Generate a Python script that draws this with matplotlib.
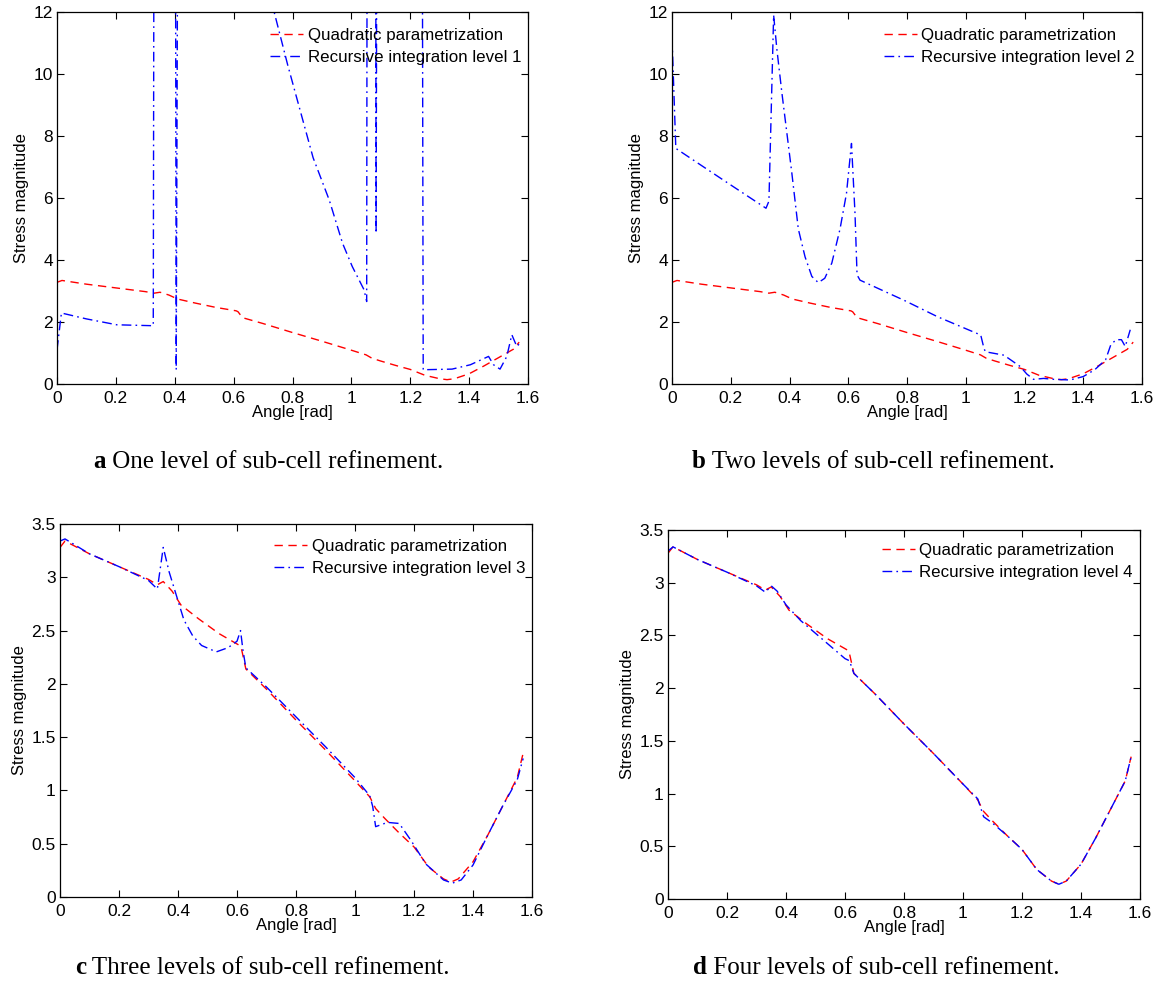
import matplotlib
matplotlib.use("Agg")
import matplotlib.pyplot as plt

plt.rcParams['font.family'] = ['Liberation Sans', 'DejaVu Sans']

# ---- data ----
quad_x = [0, 0.017, 0.1, 0.2, 0.3, 0.33, 0.35, 0.38, 0.41, 0.47, 0.54, 0.609, 0.615, 0.63,
          0.7, 0.8, 0.9, 1.0, 1.05, 1.07, 1.1, 1.15, 1.2, 1.25, 1.3, 1.325, 1.35, 1.4, 1.45,
          1.5, 1.55, 1.57]
quad_y = [3.28, 3.34, 3.22, 3.10, 2.98, 2.93, 2.96, 2.87, 2.74, 2.61, 2.47, 2.36, 2.33, 2.14,
          1.95, 1.66, 1.38, 1.09, 0.94, 0.83, 0.74, 0.60, 0.47, 0.28, 0.17, 0.14, 0.17, 0.33, 0.58,
          0.85, 1.12, 1.35]

l1_x = [0, 0.015, 0.1, 0.203, 0.327, 0.332, 0.40, 0.405, 0.415, 0.70, 0.784, 0.87, 0.925,
        0.97, 1.003, 1.043, 1.052, 1.055, 1.081, 1.084, 1.09, 1.238, 1.244, 1.342, 1.404,
        1.466, 1.483, 1.505, 1.528, 1.545, 1.562, 1.573]
l1_y = [1.1, 2.29, 2.1, 1.91, 1.88, 30, 30, 0.46, 30, 13.4, 10.28, 7.3, 5.93,
        4.54, 3.79, 3.04, 2.66, 30, 30, 4.86, 30, 30, 0.46, 0.48, 0.62,
        0.89, 0.62, 0.48, 0.89, 1.59, 1.21, 1.32]

l2_x = [0, 0.013, 0.1, 0.2, 0.32, 0.33, 0.346, 0.357, 0.374, 0.408, 0.43, 0.453, 0.476, 0.498,
        0.52, 0.544, 0.572, 0.594, 0.611, 0.623, 0.63, 0.64, 0.79, 0.904, 1.051, 1.062, 1.067,
        1.13, 1.186, 1.208, 1.231, 1.265, 1.3, 1.355, 1.4, 1.439, 1.476, 1.494, 1.512, 1.53,
        1.543, 1.56]
l2_y = [11.2, 7.6, 7.05, 6.42, 5.67, 5.9, 11.9, 10.8, 9.4, 6.8, 5.0, 4.1, 3.47, 3.27,
        3.41, 3.9, 5.0, 6.15, 7.76, 5.5, 3.52, 3.35, 2.7, 2.17, 1.58, 1.15, 1.04,
        0.93, 0.56, 0.32, 0.15, 0.18, 0.15, 0.13, 0.24, 0.46, 0.78, 1.27, 1.43, 1.43,
        1.21, 1.75]

l3_x = [0, 0.017, 0.1, 0.2, 0.3, 0.33, 0.35, 0.37, 0.4, 0.42, 0.45, 0.48, 0.53, 0.57, 0.6,
        0.612, 0.62, 0.63, 0.7, 0.8, 0.9, 1.0, 1.05, 1.06, 1.07, 1.11, 1.15, 1.19, 1.24, 1.3,
        1.33, 1.36, 1.4, 1.45, 1.5, 1.55, 1.57]
l3_y = [3.34, 3.36, 3.22, 3.10, 2.97, 2.89, 3.28, 3.05, 2.78, 2.60, 2.45, 2.36, 2.30, 2.34,
        2.40, 2.50, 2.32, 2.15, 1.97, 1.69, 1.41, 1.12, 0.95, 0.85, 0.66, 0.70, 0.69, 0.53,
        0.31, 0.16, 0.13, 0.16, 0.30, 0.58, 0.85, 1.10, 1.30]

l4_x = [0, 0.017, 0.1, 0.2, 0.3, 0.33, 0.35, 0.37, 0.4, 0.45, 0.5, 0.55, 0.6, 0.615, 0.63,
        0.7, 0.8, 0.9, 1.0, 1.05, 1.07, 1.1, 1.15, 1.2, 1.25, 1.3, 1.325, 1.35, 1.4, 1.45,
        1.5, 1.55, 1.57]
l4_y = [3.30, 3.34, 3.22, 3.10, 2.97, 2.91, 2.97, 2.92, 2.79, 2.64, 2.52, 2.40, 2.28, 2.26,
        2.14, 1.95, 1.66, 1.38, 1.09, 0.95, 0.78, 0.72, 0.60, 0.47, 0.28, 0.17, 0.14, 0.17,
        0.33, 0.58, 0.85, 1.12, 1.35]

quad_label = "Quadratic parametrization"
rec_labels = ["Recursive integration level 1", "Recursive integration level 2",
              "Recursive integration level 3", "Recursive integration level 4"]
captions = [("a", "One level of sub-cell refinement."),
            ("b", "Two levels of sub-cell refinement."),
            ("c", "Three levels of sub-cell refinement."),
            ("d", "Four levels of sub-cell refinement.")]
x_ticks = [0, 0.2, 0.4, 0.6, 0.8, 1.0, 1.2, 1.4, 1.6]
x_ticklabels = ["0", "0.2", "0.4", "0.6", "0.8", "1", "1.2", "1.4", "1.6"]
y_ticks_top = [0, 2, 4, 6, 8, 10, 12]
y_ticks_bot = [0, 0.5, 1, 1.5, 2, 2.5, 3, 3.5]
y_ticklabels_bot = ["0", "0.5", "1", "1.5", "2", "2.5", "3", "3.5"]

W, H = 1167, 992
fig = plt.figure(figsize=(W / 100, H / 100), dpi=100)

# axes boxes in pixels: left, top, right, bottom
boxes = [(57, 12, 528, 384), (672, 12, 1142, 384), (60, 524, 532, 897), (668, 530, 1140, 899)]
caption_pos = [(268, 462), (873, 462), (262, 968), (876, 968)]
legend_top = [16, 16, 15, 13]
rec_series = [(l1_x, l1_y), (l2_x, l2_y), (l3_x, l3_y), (l4_x, l4_y)]

for i, (box, (rx, ry)) in enumerate(zip(boxes, rec_series)):
    l, t, r, b = box
    aw, ah = r - l, b - t
    ax = fig.add_axes([l / W, 1 - b / H, aw / W, ah / H])
    ax.plot(quad_x, quad_y, color='#ff0000', lw=1.0, linestyle=(0, (6, 4)), label=quad_label)
    ax.plot(rx, ry, color='#0000ff', lw=1.0, linestyle=(0, (7, 3, 1.2, 3)), label=rec_labels[i])
    ax.set_xlim(0, 1.6)
    ax.set_xticks(x_ticks)
    ax.set_xticklabels(x_ticklabels)
    if i < 2:
        ax.set_ylim(0, 12)
        ax.set_yticks(y_ticks_top)
    else:
        ax.set_ylim(0, 3.5)
        ax.set_yticks(y_ticks_bot)
        ax.set_yticklabels(y_ticklabels_bot)
    ax.tick_params(direction='in', top=True, right=True, length=5, width=0.8,
                   labelsize=12.5)
    ax.tick_params(axis='x', pad=5)
    ax.tick_params(axis='y', pad=3)
    for s in ax.spines.values():
        s.set_linewidth(0.9)
    ax.set_xlabel("Angle [rad]", fontsize=12, labelpad=-0.5)
    ax.set_ylabel("Stress magnitude", fontsize=12, labelpad=3)
    ax.legend(loc='upper right', frameon=False, fontsize=12.2, handlelength=1.95,
              handletextpad=0.25, labelspacing=0.4, borderaxespad=0.0, borderpad=0.0,
              bbox_to_anchor=(1 - 7 / aw, 1 - legend_top[i] / ah))

# captions with bold letter, drawn as two pieces
fig.canvas.draw()
renderer = fig.canvas.get_renderer()
for i in range(4):
    cap_letter, cap_text = captions[i]
    cx, cyp = caption_pos[i]
    cy = 1 - cyp / H
    t1 = fig.text(0, cy, cap_letter, fontsize=18, family='Liberation Serif', weight='bold',
                  va='center')
    t2 = fig.text(0, cy, " " + cap_text, fontsize=18, family='Liberation Serif', va='center')
    w1 = t1.get_window_extent(renderer).width
    w2 = t2.get_window_extent(renderer).width
    x0 = cx - (w1 + w2) / 2
    t1.set_x(x0 / W)
    t2.set_x((x0 + w1) / W)

fig.savefig("out.png", dpi=100)
